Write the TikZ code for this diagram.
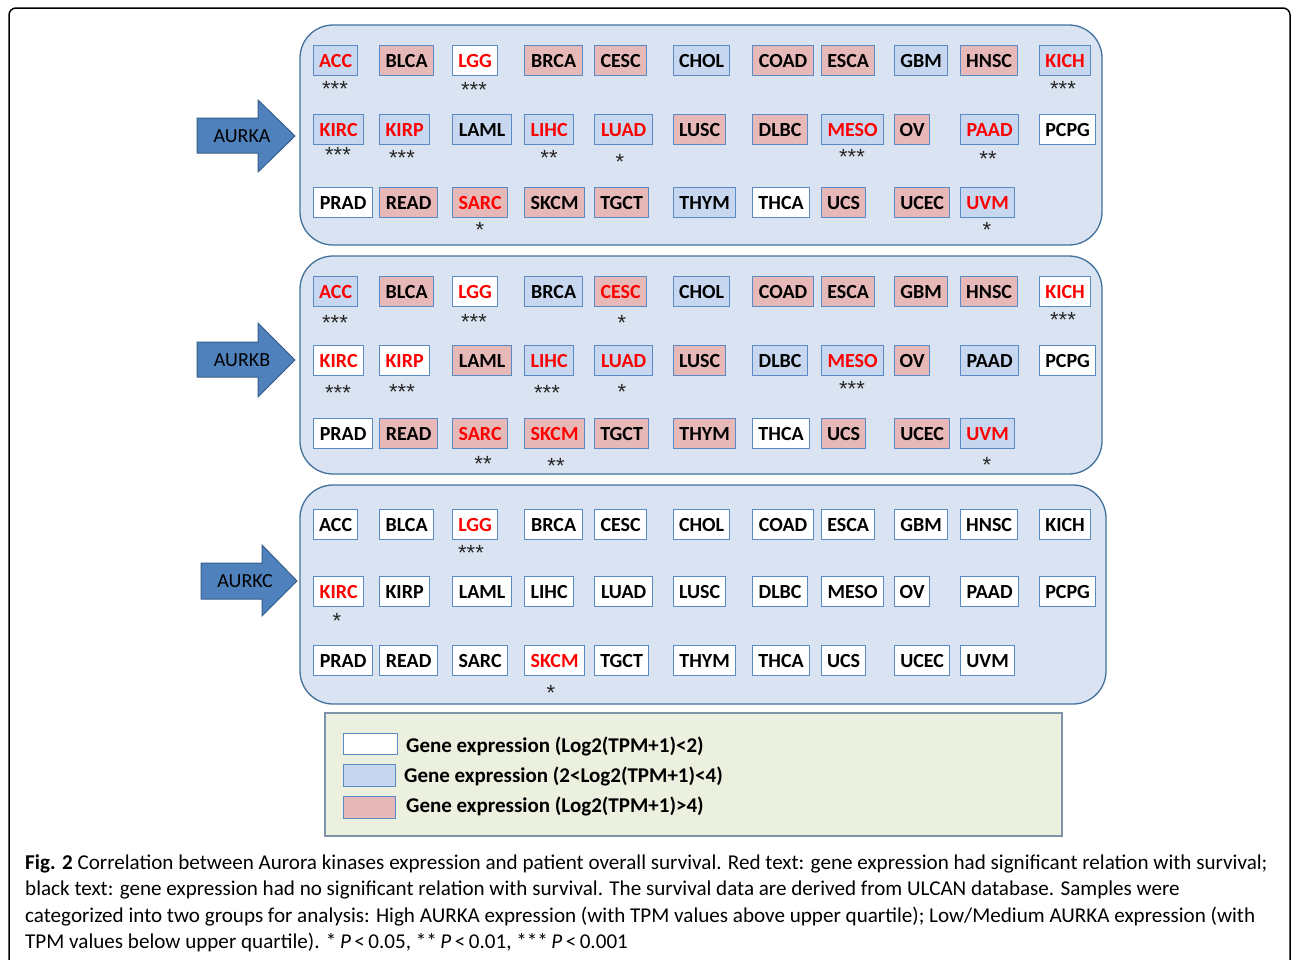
\documentclass[tikz,border=0pt]{standalone}
\usepackage{fontspec}
\setmainfont{Carlito}
\newfontfamily\starfont{Liberation Sans}
\definecolor{panelfill}{HTML}{DAE3F1}
\definecolor{panelline}{HTML}{41719C}
\definecolor{bl}{HTML}{C6D7EF}
\definecolor{pk}{HTML}{E6B9B8}
\definecolor{wt}{HTML}{FFFFFF}
\definecolor{boxline}{HTML}{5A8AC6}
\definecolor{arrowfill}{HTML}{4F81BD}
\definecolor{arrowline}{HTML}{385D8A}
\definecolor{legfill}{HTML}{EBF1DE}
\definecolor{legline}{HTML}{7F93AA}
\definecolor{sigred}{HTML}{FF0000}
\tikzset{
  panel/.style={draw=panelline, fill=panelfill, line width=1.3pt, rounded corners=33pt},
  gb/.style={draw=boxline, line width=1.2pt, minimum height=30pt, inner sep=0pt, font=\fontsize{20}{24}\selectfont\bfseries, anchor=north west},
  stars/.style={font=\starfont\fontsize{22}{24}\selectfont, text=black!85, inner sep=0pt, anchor=base},
  bigarrow/.style={draw=arrowline, fill=arrowfill, line width=1pt},
  arrowlabel/.style={font=\fontsize{20}{24}\selectfont, text=black, inner sep=0pt},
  legbox/.style={draw=legline, fill=legfill, line width=1.2pt},
  swatch/.style={draw=boxline, line width=1.2pt, inner sep=0pt, anchor=north west},
  legtext/.style={font=\fontsize{21}{24}\selectfont\bfseries, anchor=west, inner sep=0pt},
  captext/.style={font=\fontsize{21.1}{24}\selectfont, anchor=base west, inner sep=0pt},
}
% \G{panel}{label}{left}{width}{top}{fill}{textcolor}
\newcommand\G[7]{\node[gb, fill=#6, text=#7, minimum width=#4pt] (#1-#2) at (#3,#5) {#2};}
% \St{name}{x}{ycenter}{stars}
\newcommand\St[4]{\node[stars] (#1) at (#2,#3+11) {#4};}
\begin{document}
\begin{tikzpicture}[x=1pt,y=-1pt]
\useasboundingbox (0,0) rectangle (1292,959);
% outer frame
\draw[line width=1.5pt, rounded corners=7pt] (9,960) -- (9,8) -- (1290,8) -- (1290,960);
% panels
\draw[panel] (300,25) rectangle (1102,245);
\draw[panel] (300,256) rectangle (1102,474);
\draw[panel] (300,485) rectangle (1106,704);
% arrows
\draw[bigarrow] (197,118) -- (258,118) -- (258,100) -- (295,136) -- (258,172) -- (258,153) -- (197,153) -- cycle;
\node[arrowlabel] (la) at (242,136) {AURKA};
\draw[bigarrow] (197,342) -- (258,342) -- (258,323) -- (295,360) -- (258,397) -- (258,377) -- (197,377) -- cycle;
\node[arrowlabel] (lb) at (242,360) {AURKB};
\draw[bigarrow] (201,563) -- (262,563) -- (262,545) -- (297,581) -- (262,616) -- (262,599) -- (201,599) -- cycle;
\node[arrowlabel] (lc) at (245,581) {AURKC};
% ---------------- Panel A ----------------
\G{A}{ACC}{313}{44}{45}{bl}{sigred}
\G{A}{BLCA}{379}{54}{45}{pk}{black}
\G{A}{LGG}{452}{45}{45}{wt}{sigred}
\G{A}{BRCA}{524}{58}{45}{pk}{black}
\G{A}{CESC}{594}{52}{45}{pk}{black}
\G{A}{CHOL}{673}{56}{45}{bl}{black}
\G{A}{COAD}{752}{61}{45}{pk}{black}
\G{A}{ESCA}{821}{53}{45}{pk}{black}
\G{A}{GBM}{894}{53}{45}{bl}{black}
\G{A}{HNSC}{960}{57}{45}{pk}{black}
\G{A}{KICH}{1039}{51}{45}{bl}{sigred}
\G{A}{KIRC}{313}{50}{114}{bl}{sigred}
\G{A}{KIRP}{379}{50}{114}{bl}{sigred}
\G{A}{LAML}{452}{59}{114}{bl}{black}
\G{A}{LIHC}{524}{49}{114}{bl}{sigred}
\G{A}{LUAD}{594}{58}{114}{bl}{sigred}
\G{A}{LUSC}{673}{52}{114}{pk}{black}
\G{A}{DLBC}{752}{55}{114}{pk}{black}
\G{A}{MESO}{821}{62}{114}{bl}{sigred}
\G{A}{OV}{894}{35}{114}{pk}{black}
\G{A}{PAAD}{960}{58}{114}{bl}{sigred}
\G{A}{PCPG}{1039}{56}{114}{wt}{black}
\G{A}{PRAD}{313}{59}{187}{wt}{black}
\G{A}{READ}{379}{58}{187}{pk}{black}
\G{A}{SARC}{452}{55}{187}{pk}{sigred}
\G{A}{SKCM}{524}{60}{187}{pk}{black}
\G{A}{TGCT}{594}{54}{187}{pk}{black}
\G{A}{THYM}{673}{62}{187}{bl}{black}
\G{A}{THCA}{752}{57}{187}{wt}{black}
\G{A}{UCS}{821}{44}{187}{pk}{black}
\G{A}{UCEC}{894}{55}{187}{pk}{black}
\G{A}{UVM}{960}{54}{187}{bl}{sigred}
\St{sA1}{335}{85}{***}
\St{sA2}{474}{86}{***}
\St{sA3}{1063}{85}{***}
\St{sA4}{338}{151}{***}
\St{sA5}{402}{154}{***}
\St{sA6}{549}{154}{**}
\St{sA7}{620}{158}{*}
\St{sA8}{852}{153}{***}
\St{sA9}{988}{155}{**}
\St{sA10}{480}{226}{*}
\St{sA11}{987}{226}{*}
% ---------------- Panel B ----------------
\G{B}{ACC}{313}{44}{276}{bl}{sigred}
\G{B}{BLCA}{379}{54}{276}{pk}{black}
\G{B}{LGG}{452}{45}{276}{wt}{sigred}
\G{B}{BRCA}{524}{58}{276}{bl}{black}
\G{B}{CESC}{594}{52}{276}{pk}{sigred}
\G{B}{CHOL}{673}{56}{276}{bl}{black}
\G{B}{COAD}{752}{61}{276}{pk}{black}
\G{B}{ESCA}{821}{53}{276}{pk}{black}
\G{B}{GBM}{894}{53}{276}{pk}{black}
\G{B}{HNSC}{960}{57}{276}{pk}{black}
\G{B}{KICH}{1039}{51}{276}{wt}{sigred}
\G{B}{KIRC}{313}{50}{345}{wt}{sigred}
\G{B}{KIRP}{379}{50}{345}{wt}{sigred}
\G{B}{LAML}{452}{59}{345}{pk}{black}
\G{B}{LIHC}{524}{49}{345}{bl}{sigred}
\G{B}{LUAD}{594}{58}{345}{bl}{sigred}
\G{B}{LUSC}{673}{52}{345}{pk}{black}
\G{B}{DLBC}{752}{55}{345}{bl}{black}
\G{B}{MESO}{821}{62}{345}{bl}{sigred}
\G{B}{OV}{894}{35}{345}{pk}{black}
\G{B}{PAAD}{960}{58}{345}{bl}{black}
\G{B}{PCPG}{1039}{56}{345}{wt}{black}
\G{B}{PRAD}{313}{59}{418}{wt}{black}
\G{B}{READ}{379}{58}{418}{pk}{black}
\G{B}{SARC}{452}{55}{418}{pk}{sigred}
\G{B}{SKCM}{524}{60}{418}{pk}{sigred}
\G{B}{TGCT}{594}{54}{418}{pk}{black}
\G{B}{THYM}{673}{62}{418}{pk}{black}
\G{B}{THCA}{752}{57}{418}{wt}{black}
\G{B}{UCS}{821}{44}{418}{pk}{black}
\G{B}{UCEC}{894}{55}{418}{pk}{black}
\G{B}{UVM}{960}{54}{418}{bl}{sigred}
\St{sB1}{335}{319}{***}
\St{sB2}{474}{318}{***}
\St{sB3}{622}{319}{*}
\St{sB4}{1063}{316}{***}
\St{sB5}{338}{389}{***}
\St{sB6}{402}{388}{***}
\St{sB7}{547}{389}{***}
\St{sB8}{622}{388}{*}
\St{sB9}{852}{385}{***}
\St{sB10}{483}{460}{**}
\St{sB11}{556}{462}{**}
\St{sB12}{987}{461}{*}
% ---------------- Panel C ----------------
\G{C}{ACC}{313}{44}{509}{wt}{black}
\G{C}{BLCA}{379}{54}{509}{wt}{black}
\G{C}{LGG}{452}{45}{509}{wt}{sigred}
\G{C}{BRCA}{524}{58}{509}{wt}{black}
\G{C}{CESC}{594}{52}{509}{wt}{black}
\G{C}{CHOL}{673}{56}{509}{wt}{black}
\G{C}{COAD}{752}{61}{509}{wt}{black}
\G{C}{ESCA}{821}{53}{509}{wt}{black}
\G{C}{GBM}{894}{53}{509}{wt}{black}
\G{C}{HNSC}{960}{57}{509}{wt}{black}
\G{C}{KICH}{1039}{51}{509}{wt}{black}
\G{C}{KIRC}{313}{50}{576}{wt}{sigred}
\G{C}{KIRP}{379}{50}{576}{wt}{black}
\G{C}{LAML}{452}{59}{576}{wt}{black}
\G{C}{LIHC}{524}{49}{576}{wt}{black}
\G{C}{LUAD}{594}{58}{576}{wt}{black}
\G{C}{LUSC}{673}{52}{576}{wt}{black}
\G{C}{DLBC}{752}{55}{576}{wt}{black}
\G{C}{MESO}{821}{62}{576}{wt}{black}
\G{C}{OV}{894}{35}{576}{wt}{black}
\G{C}{PAAD}{960}{58}{576}{wt}{black}
\G{C}{PCPG}{1039}{56}{576}{wt}{black}
\G{C}{PRAD}{313}{59}{645}{wt}{black}
\G{C}{READ}{379}{58}{645}{wt}{black}
\G{C}{SARC}{452}{55}{645}{wt}{black}
\G{C}{SKCM}{524}{60}{645}{wt}{sigred}
\G{C}{TGCT}{594}{54}{645}{wt}{black}
\G{C}{THYM}{673}{62}{645}{wt}{black}
\G{C}{THCA}{752}{57}{645}{wt}{black}
\G{C}{UCS}{821}{44}{645}{wt}{black}
\G{C}{UCEC}{894}{55}{645}{wt}{black}
\G{C}{UVM}{960}{54}{645}{wt}{black}
\St{sC1}{471}{549}{***}
\St{sC2}{337}{617}{*}
\St{sC3}{551}{689}{*}
% ---------------- Legend ----------------
\draw[legbox] (325,713) rectangle (1062,836);
\node[swatch, fill=wt, minimum width=54pt, minimum height=21pt] (sw1) at (343,733) {};
\node[swatch, fill=bl, minimum width=52pt, minimum height=22pt] (sw2) at (343,764) {};
\node[swatch, fill=pk, minimum width=52pt, minimum height=22pt] (sw3) at (343,796) {};
\node[legtext] (lt1) at (406,746) {Gene expression (Log2(TPM+1)<2)};
\node[legtext] (lt2) at (404,776) {Gene expression (2<Log2(TPM+1)<4)};
\node[legtext] (lt3) at (406,806) {Gene expression (Log2(TPM+1)>4)};
% ---------------- Caption ----------------
\node[captext] (cap1) at (25,869) {\textbf{Fig. 2} Correlation between Aurora kinases expression and patient overall survival. Red text: gene expression had significant relation with survival;};
\node[captext] (cap2) at (25,895) {black text: gene expression had no significant relation with survival. The survival data are derived from ULCAN database. Samples were};
\node[captext] (cap3) at (25,922) {categorized into two groups for analysis: High AURKA expression (with TPM values above upper quartile); Low/Medium AURKA expression (with};
\node[captext] (cap4) at (25,948) {TPM values below upper quartile). *\,\textit{P}\,<\,0.05, **\,\textit{P}\,<\,0.01, ***\,\textit{P}\,<\,0.001};
\end{tikzpicture}
\end{document}
